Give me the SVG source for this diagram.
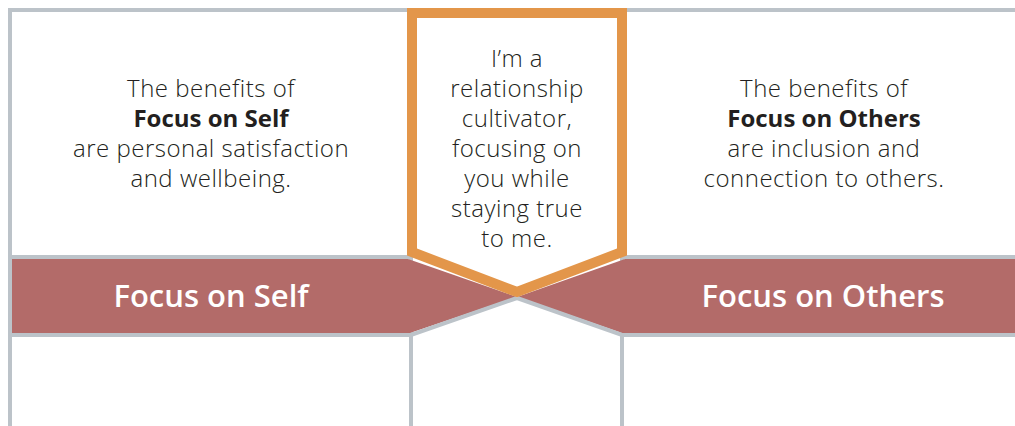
<svg xmlns="http://www.w3.org/2000/svg" width="1015" height="426" viewBox="0 0 1015 426">
<style>
.frame{stroke:#bcc3c9;stroke-width:4;fill:none}
.band{fill:#b36b69}
.body{font-family:"Open Sans",Lato,"Liberation Sans",sans-serif;font-size:24px;font-weight:300;letter-spacing:0.5px;fill:#231f20;text-anchor:middle}
.b{font-weight:700;letter-spacing:0}
.lbl{font-family:"Open Sans",Lato,"Liberation Sans",sans-serif;font-size:31px;font-weight:600;fill:#ffffff;text-anchor:middle}
.pennant{fill:#ffffff;stroke:#e3964a;stroke-width:10;stroke-linejoin:miter}
</style>
<rect width="1015" height="426" fill="#ffffff"/>
<g id="connectors">
  <path class="frame" d="M10,426 V10 H1015"/>
  <path class="frame" d="M411,426 V10"/>
  <path class="frame" d="M622,426 V10"/>
</g>
<g id="band-self">
  <polygon class="band" points="12,259 408,259 517,297 410,333 12,333"/>
  <path class="frame" d="M10,257 H410"/>
  <path class="frame" d="M10,335 H411 L517,298"/>
  <text class="lbl" x="211" y="307">Focus on Self</text>
</g>
<g id="band-others">
  <polygon class="band" points="1015,259 625,259 517,297 622,333 1015,333"/>
  <path class="frame" d="M622,257 H1015"/>
  <path class="frame" d="M1015,335 H622 L517,298"/>
  <text class="lbl" x="823" y="307">Focus on Others</text>
</g>
<g id="self-benefits">
  <text class="body" x="211" y="97">The benefits of</text>
  <text class="body b" x="211" y="127">Focus on Self</text>
  <text class="body" x="211" y="157">are personal satisfaction</text>
  <text class="body" x="211" y="187">and wellbeing.</text>
</g>
<g id="others-benefits">
  <text class="body" x="824" y="97">The benefits of</text>
  <text class="body b" x="824" y="127">Focus on Others</text>
  <text class="body" x="824" y="157">are inclusion and</text>
  <text class="body" x="824" y="187">connection to others.</text>
</g>
<g id="cultivator">
  <path class="pennant" d="M412,13 H622 V252 L517,292 L412,252 Z"/>
  <text class="body" x="517" y="67">I’m a</text>
  <text class="body" x="517" y="97">relationship</text>
  <text class="body" x="517" y="127">cultivator,</text>
  <text class="body" x="517" y="157">focusing on</text>
  <text class="body" x="517" y="187">you while</text>
  <text class="body" x="517" y="217">staying true</text>
  <text class="body" x="517" y="247">to me.</text>
</g>
</svg>
